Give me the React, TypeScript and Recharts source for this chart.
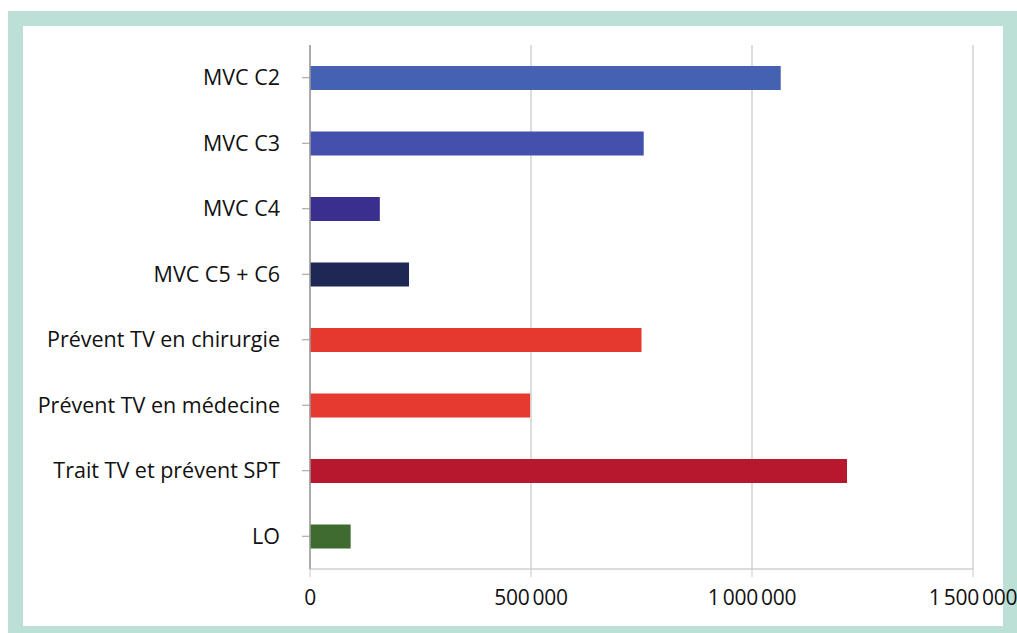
import React from 'react';
import { BarChart, Bar, XAxis, YAxis, CartesianGrid, Cell } from 'recharts';

const CATEGORIES = [
  'MVC C2',
  'MVC C3',
  'MVC C4',
  'MVC C5 + C6',
  'Prévent TV en chirurgie',
  'Prévent TV en médecine',
  'Trait TV et prévent SPT',
  'LO',
];

const VALUES = [1065000, 755000, 158000, 224000, 750000, 498000, 1215000, 92000];

const BAR_COLORS = ['#4562b2', '#4350ac', '#3a2f8e', '#1f2755', '#e5392f', '#e6392f', '#b8182e', '#3f6b31'];

const X_TICKS = [0, 500000, 1000000, 1500000];

const FONT = '"Open Sans", "Noto Sans", sans-serif';

const formatTick = (v: number) =>
  v === 0 ? '0' : String(v).replace(/\B(?=(\d{3})+(?!\d))/g, '\u2009');

export default function App() {
  const data = CATEGORIES.map((name, i) => ({ name, value: VALUES[i] }));

  return (
    <div style={{ position: 'absolute', left: 0, top: 0, width: 1017, height: 633, background: '#fff' }}>
      {/* green frame */}
      <div style={{ position: 'absolute', left: 8, top: 11, right: 0, bottom: 0, background: '#bde0d6' }} />
      <div style={{ position: 'absolute', left: 23, top: 26, width: 980, height: 600, background: '#fff' }} />

      <div style={{ position: 'absolute', left: 0, top: 0 }}>
        <BarChart
          width={1017}
          height={633}
          data={data}
          layout="vertical"
          margin={{ top: 45, right: 44, bottom: 34, left: 0 }}
          barCategoryGap={0}
        >
          <CartesianGrid horizontal={false} stroke="#d2d2d2" strokeWidth={1.5} />
          <XAxis
            type="number"
            domain={[0, 1500000]}
            ticks={X_TICKS}
            tickFormatter={formatTick}
            height={30}
            axisLine={{ stroke: '#d0d0d0', strokeWidth: 1.5 }}
            tickLine={{ stroke: '#c8c8c8' }}
            tickSize={8}
            tickMargin={13}
            tick={{ fill: '#111', fontSize: 21, fontFamily: FONT, letterSpacing: -0.3 }}
          />
          <YAxis
            type="category"
            dataKey="name"
            width={310}
            axisLine={{ stroke: '#9a9a9a', strokeWidth: 1.5 }}
            tickLine={{ stroke: '#9a9a9a' }}
            tickSize={8}
            tickMargin={22}
            interval={0}
            tick={{ fill: '#111', fontSize: 21.5, fontFamily: FONT }}
          />
          <Bar dataKey="value" barSize={24} isAnimationActive={false}>
            {data.map((d, i) => (
              <Cell key={d.name} fill={BAR_COLORS[i]} />
            ))}
          </Bar>
        </BarChart>
      </div>
    </div>
  );
}
